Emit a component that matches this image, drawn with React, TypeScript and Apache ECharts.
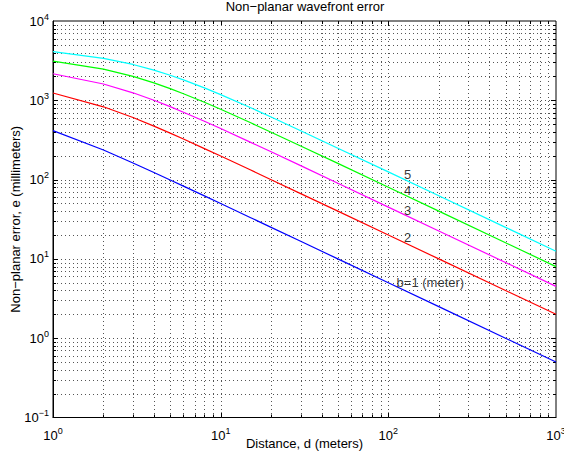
import React, { useEffect, useRef } from "react";
import * as echarts from "echarts";

const distance = [1, 2, 3, 4, 5, 6, 8, 10, 15, 20, 30, 50, 100, 200, 500, 1000];
const errB1 = [414, 236, 162, 123, 99.0, 82.8, 62.3, 49.9, 33.3, 25.0, 16.7, 10.0, 5.0, 2.5, 1.0, 0.5];
const errB2 = [1236, 828, 606, 472, 385, 325, 246, 198, 133, 99.8, 66.6, 40.0, 20.0, 10.0, 4.0, 2.0];
const errB3 = [2162, 1606, 1243, 1000, 831, 708, 544, 440, 297, 224, 150, 89.9, 45.0, 22.5, 9.0, 4.5];
const errB4 = [3123, 2472, 2000, 1657, 1403, 1211, 944, 770, 524, 396, 265, 160, 80.0, 40.0, 16.0, 8.0];
const errB5 = [4099, 3385, 2831, 2403, 2071, 1810, 1434, 1180, 811, 616, 414, 249, 125, 62.5, 25.0, 12.5];

const curveNames = ["b=1", "b=2", "b=3", "b=4", "b=5"];
const curveColors = ["#0000ff", "#ff0000", "#ff00ff", "#00ff00", "#00ffff"];

const labelTexts = ["b=1 (meter)", "2", "3", "4", "5"];
const labelX = [112, 124, 124, 124, 124];
const labelY = [5.0, 18.5, 40.5, 72, 115];

const xGridValues = [2, 3, 4, 5, 6, 7, 8, 9, 10, 20, 30, 40, 50, 60, 70, 80, 90, 100, 200, 300, 400, 500, 600, 700, 800, 900];
const yGridValues = [
  0.2, 0.3, 0.4, 0.5, 0.6, 0.7, 0.8, 0.9, 1,
  2, 3, 4, 5, 6, 7, 8, 9, 10,
  20, 30, 40, 50, 60, 70, 80, 90, 100,
  200, 300, 400, 500, 600, 700, 800, 900, 1000,
  2000, 3000, 4000, 5000, 6000, 7000, 8000, 9000,
];

const FONT = "Liberation Sans, Arial, Helvetica, sans-serif";

function isMajor(v: number) {
  const l = Math.log10(v);
  return Math.abs(l - Math.round(l)) < 1e-6;
}

function supFormatter(v: number) {
  const e = Math.round(Math.log10(v));
  const s = e < 0 ? "\u2212" + Math.abs(e) : String(e);
  return "{b|10}{s|" + s + "}";
}

const rich = {
  b: { fontSize: 13, fontFamily: FONT, color: "#000" },
  s: { fontSize: 9, fontFamily: FONT, color: "#000", padding: [0, 0, 9, 0] },
};

export default function App() {
  const ref = useRef<HTMLDivElement>(null);
  useEffect(() => {
    if (!ref.current) return;
    const chart = echarts.init(ref.current, undefined, { renderer: "svg" });
    const gridStyle = { stroke: "#555", lineWidth: 1, lineDash: [1, 3] };
    const series: any[] = [
      {
        type: "custom",
        silent: true,
        z: 1,
        data: xGridValues.map((v) => [v, 1]),
        renderItem: (params: any, api: any) => {
          const v = api.value(0);
          const cs = params.coordSys;
          const x = Math.round(api.coord([v, 1])[0]) + 0.5;
          const len = isMajor(v) ? 5 : 3;
          const top = cs.y;
          const bot = cs.y + cs.height;
          return {
            type: "group",
            children: [
              { type: "line", shape: { x1: x, y1: top, x2: x, y2: bot }, style: gridStyle },
              { type: "line", shape: { x1: x, y1: bot, x2: x, y2: bot - len }, style: { stroke: "#000", lineWidth: 1 } },
              { type: "line", shape: { x1: x, y1: top, x2: x, y2: top + len }, style: { stroke: "#000", lineWidth: 1 } },
            ],
          };
        },
      },
      {
        type: "custom",
        silent: true,
        z: 1,
        data: yGridValues.map((v) => [1, v]),
        renderItem: (params: any, api: any) => {
          const v = api.value(1);
          const cs = params.coordSys;
          const y = Math.round(api.coord([1, v])[1]) + 0.5;
          const len = isMajor(v) ? 5 : 3;
          const left = cs.x;
          const right = cs.x + cs.width;
          return {
            type: "group",
            children: [
              { type: "line", shape: { x1: left, y1: y, x2: right, y2: y }, style: gridStyle },
              { type: "line", shape: { x1: left, y1: y, x2: left + len, y2: y }, style: { stroke: "#000", lineWidth: 1 } },
              { type: "line", shape: { x1: right, y1: y, x2: right - len, y2: y }, style: { stroke: "#000", lineWidth: 1 } },
            ],
          };
        },
      },
    ];
    const curves = [errB1, errB2, errB3, errB4, errB5];
    curves.forEach((vals, i) => {
      series.push({
        type: "line",
        name: curveNames[i],
        z: 3,
        showSymbol: false,
        symbol: "none",
        lineStyle: { color: curveColors[i], width: 1.2 },
        itemStyle: { color: curveColors[i] },
        data: distance.map((d, j) => [d, vals[j]]),
      });
    });
    series.push({
      type: "scatter",
      z: 4,
      symbolSize: 0,
      silent: true,
      data: labelTexts.map((t, i) => [labelX[i], labelY[i], t]),
      label: {
        show: true,
        position: "right",
        distance: 0,
        formatter: (p: any) => p.data[2],
        fontSize: 13,
        fontFamily: FONT,
        color: "#000",
      },
    });

    chart.setOption({
      animation: false,
      backgroundColor: "#fff",
      textStyle: { fontFamily: FONT },
      grid: {
        left: 53,
        right: 8,
        top: 21,
        bottom: 41.5,
        containLabel: false,
        outerBoundsMode: "none",
        show: true,
        borderColor: "#000",
        borderWidth: 1,
        backgroundColor: "transparent",
      },
      graphic: [
        {
          type: "text",
          x: 305,
          y: 6.5,
          style: { text: "Non\u2212planar wavefront error", fontSize: 13, fontFamily: FONT, fill: "#000", textAlign: "center", textVerticalAlign: "middle" },
        },
      ],
      xAxis: {
        type: "log",
        logBase: 10,
        min: 1,
        max: 1000,
        name: "Distance, d (meters)",
        nameLocation: "middle",
        nameGap: 19,
        nameMoveOverlap: false,
        nameTextStyle: { fontSize: 13, fontFamily: FONT, color: "#000" },
        axisLine: { show: true, lineStyle: { color: "#000", width: 1 } },
        axisTick: { show: false },
        splitLine: { show: false },
        minorTick: { show: false },
        axisLabel: { margin: 9, formatter: supFormatter, rich, showMinLabel: true, showMaxLabel: true },
      },
      yAxis: {
        type: "log",
        logBase: 10,
        min: 0.1,
        max: 10000,
        name: "Non\u2212planar error, e (millimeters)",
        nameLocation: "middle",
        nameGap: 31,
        nameMoveOverlap: false,
        nameTextStyle: { fontSize: 13, fontFamily: FONT, color: "#000" },
        axisLine: { show: true, lineStyle: { color: "#000", width: 1 } },
        axisTick: { show: false },
        splitLine: { show: false },
        minorTick: { show: false },
        axisLabel: { margin: 4, formatter: supFormatter, rich, showMinLabel: true, showMaxLabel: true },
      },
      series,
    });
    return () => chart.dispose();
  }, []);
  return <div ref={ref} style={{ position: "fixed", left: 0, top: 0, width: 564, height: 459 }} />;
}
